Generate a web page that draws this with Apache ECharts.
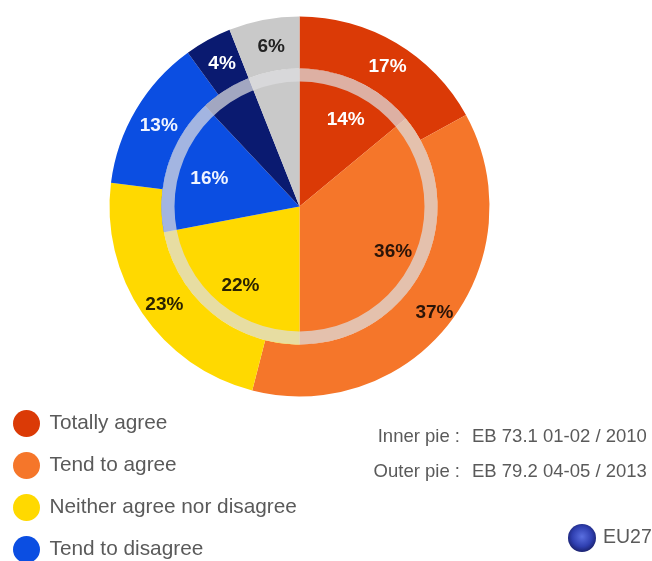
<!DOCTYPE html>
<html><head><meta charset="utf-8">
<style>html,body{margin:0;padding:0;background:#fff;overflow:hidden}#c{width:652px;height:561px;filter:blur(0.7px)}</style>
<script src="https://cdn.jsdelivr.net/npm/echarts@6/dist/echarts.min.js"></script>
</head><body><div id="c"></div>
<script>
const categories = ['Totally agree','Tend to agree','Neither agree nor disagree','Tend to disagree','Totally disagree',"Don't know"];
const legendItems = categories.slice(0,4);
const outerValues = [17,37,23,13,4,6];
const innerValues = [14,36,22,16,6,6];
const innerLabelled = [true,true,true,true,false,false];
const sliceColors = ['#DB3A06','#F5762A','#FFD900','#0B4EE2','#0A1A70','#C9C9C9'];
const labelColors = ['#fff','#2a1408','#2a2200','#f0f4ff','#fff','#222'];
const center = [299.5,206.5];
const labelFont = {fontFamily:'Liberation Sans',fontWeight:'bold',fontSize:19};
const noteFont = '18.5px "Liberation Sans"';
const chart = echarts.init(document.getElementById('c'),null,{renderer:'canvas'});
chart.setOption({
  animation:false,
  legend:{data:legendItems,orient:'vertical',left:13,top:410,height:300,padding:0,icon:'circle',itemWidth:28,itemHeight:27,itemGap:15,
    selectedMode:false,textStyle:{fontFamily:'Liberation Sans',fontSize:20.8,color:'#5a5a5a',padding:[2,0,0,4]}},
  series:[
    {type:'pie',name:'Outer',center,radius:[138,190],silent:true,avoidLabelOverlap:false,labelLine:{show:false},
     label:{show:true,position:'inside',...labelFont,formatter:'{c}%'},labelLayout:{dx:3,dy:4},
     data:categories.map((n,i)=>({name:n,value:outerValues[i],itemStyle:{color:sliceColors[i]},label:{color:labelColors[i]}}))},
    {type:'pie',name:'Inner',center,radius:[0,138],silent:true,label:{show:false},labelLine:{show:false},
     data:categories.map((n,i)=>({name:n,value:innerValues[i],itemStyle:{color:sliceColors[i]}}))},
    {type:'pie',name:'Ring',center,radius:[125,138],silent:true,label:{show:false},labelLine:{show:false},
     data:[{name:'ring',value:1,itemStyle:{color:'rgba(222,222,225,0.72)'}}]},
    {type:'pie',name:'Inner labels',center,radius:[54,138],silent:true,avoidLabelOverlap:false,labelLine:{show:false},
     label:{position:'inside',...labelFont,formatter:'{c}%'},labelLayout:{dx:4,dy:3},
     data:categories.map((n,i)=>({name:n,value:innerValues[i],itemStyle:{color:'transparent'},
       label:{show:innerLabelled[i],color:labelColors[i]}}))}
  ],
  graphic:[
    {type:'text',style:{x:460,y:437,text:'Inner pie :',textAlign:'right',textVerticalAlign:'middle',font:noteFont,fill:'#5a5a5a'}},
    {type:'text',style:{x:472,y:437,text:'EB 73.1 01-02 / 2010',textAlign:'left',textVerticalAlign:'middle',font:noteFont,fill:'#5a5a5a'}},
    {type:'text',style:{x:460,y:472,text:'Outer pie :',textAlign:'right',textVerticalAlign:'middle',font:noteFont,fill:'#5a5a5a'}},
    {type:'text',style:{x:472,y:472,text:'EB 79.2 04-05 / 2013',textAlign:'left',textVerticalAlign:'middle',font:noteFont,fill:'#5a5a5a'}},
    {type:'circle',shape:{cx:582,cy:538,r:14},style:{fill:new echarts.graphic.RadialGradient(0.5,0.45,0.55,[{offset:0,color:'#5a6fe0'},{offset:0.65,color:'#2f3fb0'},{offset:1,color:'#1a2270'}])}},
    {type:'text',style:{x:603,y:538,text:'EU27',textAlign:'left',textVerticalAlign:'middle',font:'19.5px "Liberation Sans"',fill:'#5a5a5a'}}
  ]
});
</script></body></html>
